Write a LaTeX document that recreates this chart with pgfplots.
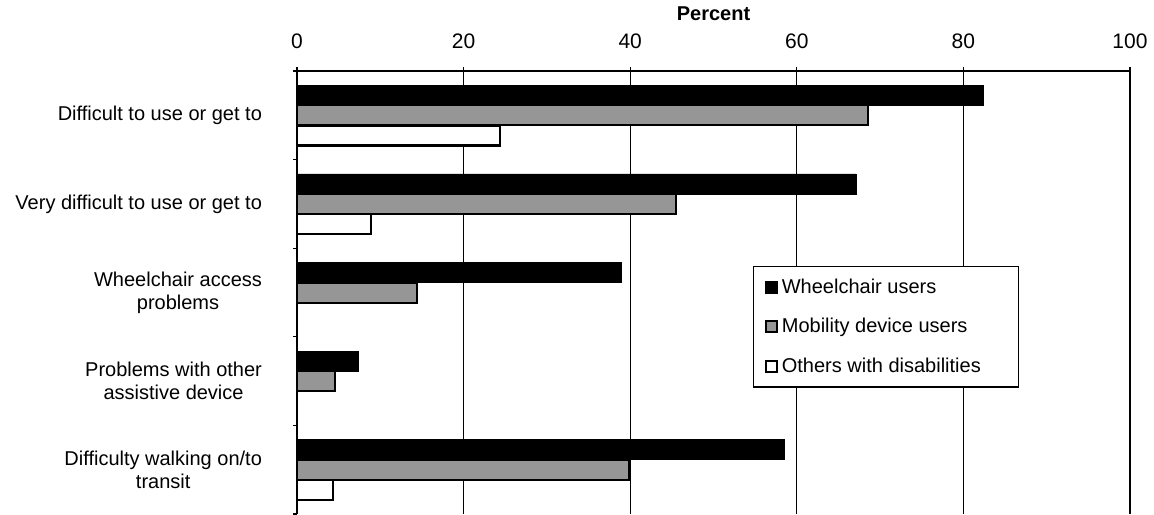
\documentclass[border=0pt]{standalone}
\usepackage{pgfplots}
\pgfplotsset{compat=1.18}
\usepackage{fontspec}
\setmainfont{Liberation Sans}
\definecolor{midgray}{RGB}{150,150,150}

\begin{document}
\begin{tikzpicture}
\useasboundingbox (0,0) rectangle (577pt,257pt);
\begin{axis}[
    at={(148.5pt,0pt)}, anchor=south west,
    scale only axis, width=416.5pt, height=221.5pt,
    xbar, bar width=10pt,
    xmin=0, xmax=100, ymin=-0.5, ymax=4.5,
    y dir=reverse,
    axis x line*=top, axis y line*=left,
    axis line style={line width=0.6pt},
    xtick={0,20,...,100},
    xmajorgrids,
    major grid style={black, line width=0.6pt},
    ytick={-0.5,0.5,...,4.5}, yticklabels={},
    extra y ticks={0,1,2,3,4},
    extra y tick labels={Difficult to use or get to, Very difficult to use or get to, {Wheelchair access\\problems}, {Problems with other\\assistive device}, {Difficulty walking on/to\\transit}},
    extra y tick style={major tick length=0pt, grid=none},
    tick align=outside, major tick length=2pt,
    tick style={black, line width=0.6pt},
    /pgf/number format/assume math mode=true,
    xticklabel style={font=\fontsize{10.5}{12}\selectfont, yshift=5.5pt},
    yticklabel style={align=center, font=\fontsize{10}{11.5}\selectfont, xshift=-14pt},
    xlabel={\textbf{Percent}},
    xlabel style={font=\fontsize{10}{12}\selectfont, yshift=0pt},
    legend image code/.code={\draw[#1, line width=0.8pt] (0pt,-2.75pt) rectangle (5.5pt,2.75pt);},
    legend style={at={(axis cs:54.7,1.70)}, anchor=north west,
        draw=black, line width=0.6pt, inner xsep=6pt, inner ysep=4pt,
        row sep=7pt, font=\fontsize{10}{12}\selectfont,
        /tikz/every even column/.append style={column sep=1pt}},
    legend cell align=left,
]
\addplot[draw=black, fill=black, bar shift=10pt] coordinates {(82.4,0) (67.1,1) (39.0,2) (7.4,3) (58.5,4)};
\addplot[draw=black, line width=1pt, fill=midgray, bar shift=0pt] coordinates {(68.6,0) (45.5,1) (14.4,2) (4.6,3) (39.8,4)};
\addplot[draw=black, line width=1.2pt, fill=white, bar shift=-10pt] coordinates {(24.4,0) (8.9,1) (4.3,4)};
\legend{Wheelchair users, Mobility device users, Others with disabilities\hspace*{11pt}}
\end{axis}
\end{tikzpicture}
\end{document}
